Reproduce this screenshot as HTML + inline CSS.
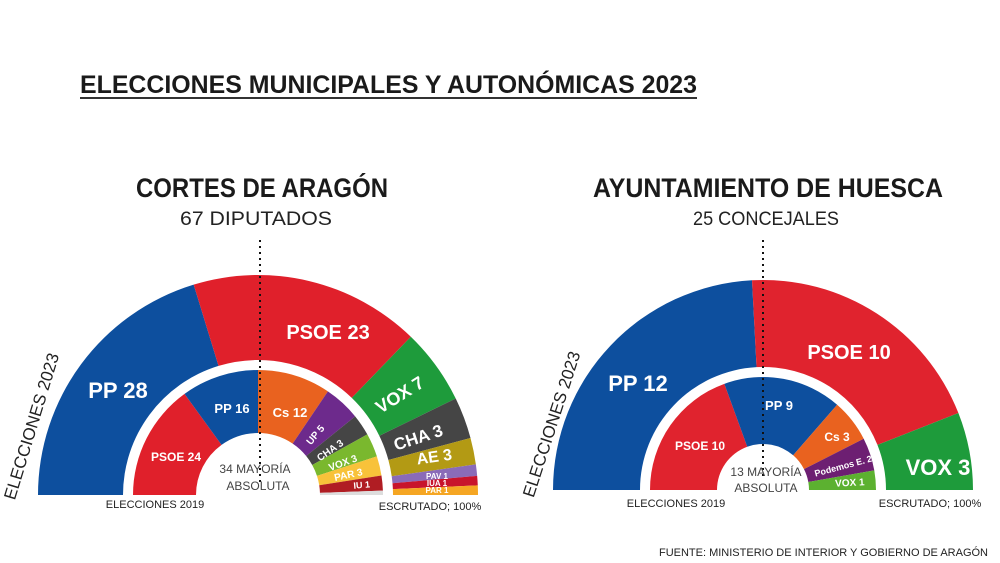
<!DOCTYPE html>
<html><head><meta charset="utf-8"><style>
html,body{margin:0;padding:0;background:#fff;width:1000px;height:563px;overflow:hidden}
svg{display:block}
text{font-family:"Liberation Sans",sans-serif}
</style></head><body>
<svg id="s" width="1000" height="563" viewBox="0 0 1000 563" xmlns="http://www.w3.org/2000/svg">
<rect width="1000" height="563" fill="#fff"/>
<text x="80" y="93" font-size="25" font-weight="bold" fill="#1a1a1a" textLength="617" lengthAdjust="spacingAndGlyphs">ELECCIONES MUNICIPALES Y AUTONÓMICAS 2023</text>
<rect x="80" y="97" width="617" height="2" fill="#333"/>
<text x="262" y="197" font-size="27" font-weight="bold" fill="#1a1a1a" text-anchor="middle" textLength="252" lengthAdjust="spacingAndGlyphs">CORTES DE ARAGÓN</text>
<text x="256" y="225" font-size="19" fill="#222" text-anchor="middle" textLength="152" lengthAdjust="spacingAndGlyphs">67 DIPUTADOS</text>
<text x="768" y="197" font-size="27" font-weight="bold" fill="#1a1a1a" text-anchor="middle" textLength="350" lengthAdjust="spacingAndGlyphs">AYUNTAMIENTO DE HUESCA</text>
<text x="766" y="225" font-size="19" fill="#222" text-anchor="middle" textLength="146" lengthAdjust="spacingAndGlyphs">25 CONCEJALES</text>
<g id="g"></g>
<g id="t" font-weight="bold" fill="#fff" text-anchor="middle"></g>
<line x1="260" y1="240" x2="260" y2="482" stroke="#111" stroke-width="2" stroke-dasharray="2,4"/>
<line x1="763" y1="240" x2="763" y2="478" stroke="#111" stroke-width="2" stroke-dasharray="2,4"/>
<g fill="#444" text-anchor="middle" font-size="12">
<text x="255" y="473">34 MAYORÍA</text><text x="258" y="490">ABSOLUTA</text>
<text x="766" y="476">13 MAYORÍA</text><text x="766" y="492">ABSOLUTA</text>
</g>
<g fill="#222" text-anchor="middle" font-size="11">
<text x="155" y="508">ELECCIONES 2019</text><text x="430" y="510">ESCRUTADO; 100%</text>
<text x="676" y="507">ELECCIONES 2019</text><text x="930" y="507">ESCRUTADO; 100%</text>
</g>
<text transform="translate(37,428) rotate(-73)" font-size="17" fill="#222" text-anchor="middle">ELECCIONES 2023</text>
<text transform="translate(557,426) rotate(-72)" font-size="17" fill="#222" text-anchor="middle">ELECCIONES 2023</text>
<text x="988" y="556" font-size="11" fill="#222" text-anchor="end">FUENTE: MINISTERIO DE INTERIOR Y GOBIERNO DE ARAGÓN</text>
</svg>
<script>
var NS="http://www.w3.org/2000/svg",g=document.getElementById('g'),t=document.getElementById('t');
function ring(cx,cy,r0,r1,data){var prev=0;
data.forEach(function(d){var a0=Math.PI*prev/180,a1=Math.PI*d[0]/180;prev=d[0];
function p(r,a){return [cx-r*Math.cos(a),cy-r*Math.sin(a)]}
var A=p(r1,a0),B=p(r1,a1),C=p(r0,a1),D=p(r0,a0);
var pa=document.createElementNS(NS,'path');
pa.setAttribute('d','M'+A+' A'+r1+','+r1+' 0 0 1 '+B+' L'+C+' A'+r0+','+r0+' 0 0 0 '+D+'Z');
pa.setAttribute('fill',d[1]);g.appendChild(pa);});}
ring(258,495,135,220,[[73,'#0d4f9e'],[134,'#e0202b'],[154,'#1e9b3b'],[165,'#454545'],[172,'#b39a14'],[175,'#8a6bb8'],[177.5,'#c8142c'],[180,'#f5a623']]);
ring(258,495,62,125,[[54,'#e0202b'],[90,'#0d4f9e'],[124,'#e9621f'],[141,'#6d2a8c'],[151,'#454545'],[162,'#7ab82e'],[171,'#f8c23a'],[178,'#b01d23'],[180,'#ddd']]);
ring(763,490,123,210,[[87,'#0d4f9e'],[158.5,'#e0232e'],[180,'#1e9b3b']]);
ring(763,490,46,113,[[70,'#e0232e'],[131,'#0d4f9e'],[153,'#e9621f'],[170,'#6d1f72'],[180,'#5cb130']]);
var L=[[118,398,22,0,'PP 28'],[328,339,20,0,'PSOE 23'],[403,400,18,-32,'VOX 7'],[420,443,17,-18,'CHA 3'],[435,462,16,-8,'AE 3'],
[437,479,8,0,'PAV 1'],[437,486,8,0,'IUA 1'],[437,493,8,0,'PAR 1'],
[232,413,13,0,'PP 16'],[176,461,12,0,'PSOE 24'],[290,417,13,0,'Cs 12'],[318,437,10,-50,'UP 5'],[332,453,10,-35,'CHA 3'],[344,466,10,-20,'VOX 3'],[349,478,10,-12,'PAR 3'],[362,488,9,-5,'IU 1'],
[638,391,22,0,'PP 12'],[849,359,20,0,'PSOE 10'],[938,475,22,0,'VOX 3'],[779,410,13,0,'PP 9'],[700,450,12,0,'PSOE 10'],[837,441,12,0,'Cs 3'],[844,469,9,-15,'Podemos E. 2'],[850,486,10,-3,'VOX 1']];
L.forEach(function(l){var e=document.createElementNS(NS,'text');e.setAttribute('transform','translate('+l[0]+','+l[1]+') rotate('+l[3]+')');e.setAttribute('font-size',l[2]);e.textContent=l[4];t.appendChild(e);});
</script>
</body></html>
